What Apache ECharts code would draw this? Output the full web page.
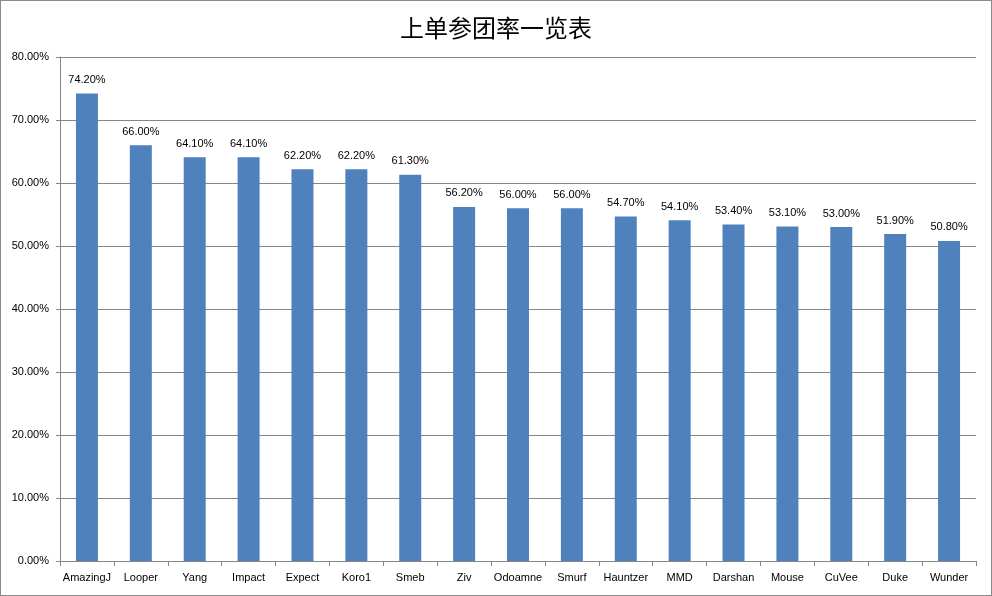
<!DOCTYPE html>
<html>
<head>
<meta charset="utf-8">
<script src="https://cdn.jsdelivr.net/npm/echarts@6/dist/echarts.min.js"></script>
<style>
html,body{margin:0;padding:0;background:#fff;}
#c{width:992px;height:596px;box-sizing:border-box;border:1px solid #8c8c8c;}
</style>
</head>
<body>
<div id="c"></div>
<script>
const titleText = '上单参团率一览表';
const categories = ['AmazingJ','Looper','Yang','Impact','Expect','Koro1','Smeb','Ziv','Odoamne','Smurf','Hauntzer','MMD','Darshan','Mouse','CuVee','Duke','Wunder'];
const rates = [74.2, 66.0, 64.1, 64.1, 62.2, 62.2, 61.3, 56.2, 56.0, 56.0, 54.7, 54.1, 53.4, 53.1, 53.0, 51.9, 50.8];
const yMin = 0, yMax = 80, yStep = 10;

const chart = echarts.init(document.getElementById('c'));
chart.setOption({
  animation: false,
  title: {
    text: titleText,
    left: 'center',
    top: 10,
    textStyle: {fontFamily: 'Noto Sans CJK SC', fontSize: 24, fontWeight: 'normal', color: '#000'}
  },
  grid: {left: 59, right: 15, top: 56, bottom: 34, containLabel: false},
  xAxis: {
    type: 'category',
    data: categories,
    axisLine: {lineStyle: {color: '#868686', width: 1}},
    axisTick: {show: true, length: 5, lineStyle: {color: '#868686'}},
    axisLabel: {color: '#000', fontSize: 11, fontFamily: 'Liberation Sans', margin: 11, interval: 0}
  },
  yAxis: {
    type: 'value',
    min: yMin, max: yMax, interval: yStep,
    axisLine: {show: true, lineStyle: {color: '#868686', width: 1}},
    axisTick: {show: true, length: 4, lineStyle: {color: '#868686'}},
    splitLine: {lineStyle: {color: '#868686', width: 1}},
    axisLabel: {color: '#000', fontSize: 11, fontFamily: 'Liberation Sans', margin: 11,
      formatter: v => v.toFixed(2) + '%'}
  },
  series: [{
    type: 'bar',
    data: rates,
    barWidth: 22,
    itemStyle: {color: '#4F81BD'},
    label: {show: true, position: 'top', distance: 8, color: '#000', fontSize: 11, fontFamily: 'Liberation Sans',
      formatter: p => p.value.toFixed(2) + '%'}
  }]
});
</script>
</body>
</html>
